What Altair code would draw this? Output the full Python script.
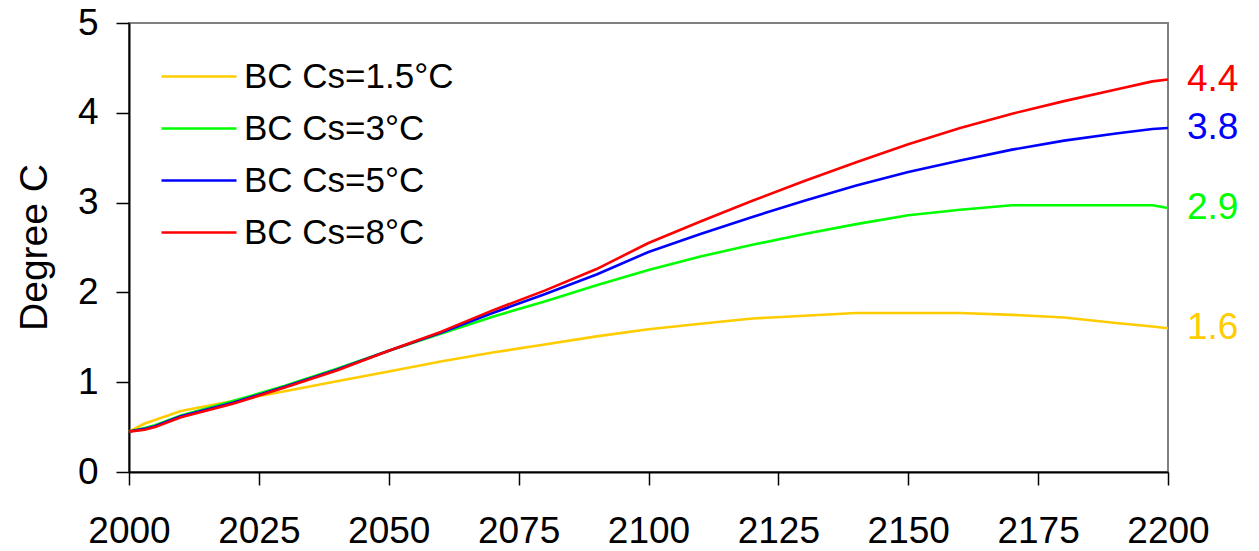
import altair as alt
import pandas as pd

# Simulated warming (degrees C) for four climate-sensitivity cases
years = [2000, 2003, 2005, 2010, 2020, 2030, 2040, 2050, 2060, 2070, 2080, 2090,
         2100, 2110, 2120, 2130, 2140, 2150, 2160, 2170, 2180, 2190, 2197, 2200]
cs_15 = [0.45, 0.54, 0.58, 0.68, 0.79, 0.90, 1.01, 1.12, 1.23, 1.33, 1.42, 1.51,
         1.59, 1.65, 1.71, 1.74, 1.77, 1.77, 1.77, 1.75, 1.72, 1.66, 1.62, 1.60]
cs_3 = [0.45, 0.49, 0.52, 0.63, 0.79, 0.96, 1.15, 1.35, 1.54, 1.73, 1.90, 2.08,
        2.25, 2.40, 2.53, 2.65, 2.76, 2.86, 2.92, 2.97, 2.97, 2.97, 2.97, 2.94]
cs_5 = [0.45, 0.48, 0.51, 0.62, 0.77, 0.95, 1.14, 1.35, 1.55, 1.77, 1.98, 2.20,
        2.45, 2.65, 2.84, 3.02, 3.19, 3.34, 3.47, 3.59, 3.69, 3.77, 3.82, 3.83]
cs_8 = [0.45, 0.47, 0.50, 0.61, 0.76, 0.94, 1.13, 1.35, 1.56, 1.80, 2.02, 2.26,
        2.55, 2.79, 3.02, 3.24, 3.45, 3.65, 3.83, 3.99, 4.13, 4.26, 4.35, 4.37]

series_names = ["BC Cs=1.5°C", "BC Cs=3°C", "BC Cs=5°C", "BC Cs=8°C"]
series_colors = ["#FFCC00", "#00FF00", "#0000FF", "#FF0000"]
x_ticks = [2000, 2025, 2050, 2075, 2100, 2125, 2150, 2175, 2200]
y_ticks = [0, 1, 2, 3, 4, 5]

rows = []
for name, vals in zip(series_names, [cs_15, cs_3, cs_5, cs_8]):
    for yr, v in zip(years, vals):
        rows.append({"year": yr, "temp": v, "series": name})
df = pd.DataFrame(rows)
ends = df[df["year"] == years[-1]]

FONT = "Liberation Sans"

color_scale = alt.Scale(domain=series_names, range=series_colors)

x_enc = alt.X(
    "year:Q",
    scale=alt.Scale(domain=[2000, 2200], nice=False, zero=False),
    axis=alt.Axis(values=x_ticks, format="d", title=None, labelPadding=28,
                  labelFlush=False, labelOverlap=False),
)
y_enc = alt.Y(
    "temp:Q",
    scale=alt.Scale(domain=[0, 5], nice=False),
    axis=alt.Axis(values=y_ticks, format="d", title="Degree C", labelPadding=18,
                  labelFlush=False, labelOverlap=False,
                  titleX=-95, titleY=224, titleAngle=-90,
                  titleAlign="center", titleBaseline="middle"),
)

lines = alt.Chart(df).mark_line(strokeWidth=2.6, strokeJoin="round").encode(
    x=x_enc,
    y=y_enc,
    color=alt.Color(
        "series:N",
        scale=color_scale,
        sort=series_names,
        legend=alt.Legend(
            orient="none", legendX=80, legendY=36, title=None,
            symbolType="M-6.5,0H1", symbolSize=400, symbolStrokeWidth=2.6,
            labelFont=FONT, labelFontSize=35, labelColor="black",
            labelLimit=500, labelOffset=0, rowPadding=16, padding=0,
        ),
    ),
)

end_labels = alt.Chart(ends).mark_text(
    align="left", baseline="middle", dx=19, fontSize=37, font=FONT
).encode(
    x="year:Q",
    y="temp:Q",
    text=alt.Text("temp:Q", format=".1f"),
    color=alt.Color("series:N", scale=color_scale, legend=None),
)

chart = (
    alt.layer(lines, end_labels)
    .resolve_legend(color="independent")
    .properties(
        width=1039,
        height=449,
        padding={"left": 129, "top": 23, "right": 91, "bottom": 79},
        autosize=alt.AutoSizeParams(type="none"),
    )
    .configure_view(stroke="#808080", strokeWidth=2)
    .configure_axis(
        grid=False,
        domainColor="black",
        domainWidth=2,
        tickColor="black",
        tickWidth=1.5,
        tickSize=13,
        labelFont=FONT,
        labelFontSize=37,
        labelColor="black",
        titleFont=FONT,
        titleFontSize=39,
        titleFontWeight="normal",
        titleColor="black",
    )
)

chart.save("out.html", embed_options={"renderer": "svg", "actions": False})
